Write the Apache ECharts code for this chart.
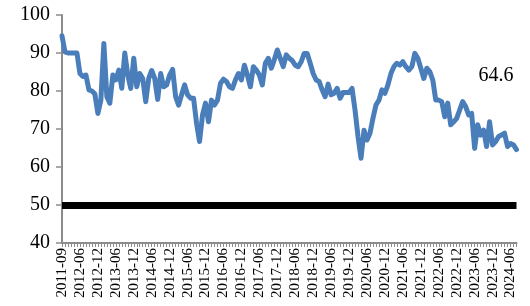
<!DOCTYPE html>
<html>
<head>
<meta charset="utf-8">
<script src="https://cdn.jsdelivr.net/npm/echarts@6/dist/echarts.min.js"></script>
<style>html,body{margin:0;padding:0;background:#fff}#c{width:530px;height:306px}</style>
</head>
<body>
<div id="c"></div>
<script>
// Categories: first point 2011-09, then monthly from 2012-01 to 2024-08
const firstCategory = '2011-09';
const monthlyStart = [2012, 1];
const monthlyEnd = [2024, 8];

const values = [
  94.5, 90.3, 90, 90, 90, 90, 84.6, 83.8, 84.2, 80.3,
  80, 79.2, 74.1, 77.6, 92.5, 78.5, 76.8, 84.2, 82.9, 85.5,
  80.7, 90, 84.2, 80.7, 88.6, 81.1, 84.6, 83.3, 77.2, 83.3,
  85.4, 83.3, 77.8, 84.6, 81.1, 81.6, 84.2, 85.7, 78.5, 76.3,
  79, 81.6, 79, 78.1, 78.1, 71.5, 66.7, 73.7, 76.8, 71.9,
  77.6, 76.3, 77.6, 82, 83.1, 82.5, 81.1, 80.7, 82.9, 84.6,
  82.9, 86.8, 84.2, 81.1, 86.4, 85.5, 84.2, 81.6, 87.3, 88.6,
  86, 88.2, 90.8, 88.6, 86.4, 89.5, 88.6, 88, 86.8, 86.4,
  87.7, 89.9, 89.9, 87.3, 84.6, 82.9, 82.5, 80.3, 78.5, 81.8,
  79, 79.4, 80.7, 78.1, 79.6, 79.6, 79.6, 80.7, 75, 68,
  62.3, 69.7, 67.1, 68.9, 72.8, 76.3, 77.6, 80.3, 79.4, 81.6,
  84.6, 86.4, 87.3, 86.8, 87.7, 86.4, 85.5, 86.4, 89.9, 88.6,
  86, 83.3, 86, 85.1, 82.9, 77.6, 77.6, 77.2, 73.2, 76.8,
  71.1, 71.9, 72.8, 75, 77.2, 75.9, 73.7, 74.1, 64.9, 71.1,
  68.4, 69.7, 65.4, 71.9, 65.8, 66.7, 68, 68.4, 68.9, 65.4,
  66.2, 65.8, 64.6
];

const thresholdValue = 50;
const yTicks = [40, 50, 60, 70, 80, 90, 100];
const endLabelText = '64.6';

const categories = [firstCategory];
for (let y = monthlyStart[0], m = monthlyStart[1]; y < monthlyEnd[0] || (y === monthlyEnd[0] && m <= monthlyEnd[1]); ) {
  categories.push(y + '-' + String(m).padStart(2, '0'));
  m++; if (m > 12) { m = 1; y++; }
}

const serif = '"Liberation Serif", "Times New Roman", serif';
const chart = echarts.init(document.getElementById('c'), null, {renderer: 'canvas'});
chart.setOption({
  animation: false,
  grid: {left: 62, right: 13.5, top: 15, bottom: 63, containLabel: false},
  xAxis: {
    type: 'category',
    data: categories,
    boundaryGap: false,
    axisLine: {lineStyle: {color: '#8c8c8c', width: 2}},
    axisTick: {show: true, interval: 0, length: 4, lineStyle: {color: '#8c8c8c', width: 1}},
    axisLabel: {
      interval: function (i) { return i % 6 === 0; },
      rotate: 90,
      margin: 5,
      fontFamily: serif,
      fontSize: 15,
      color: '#000'
    },
    splitLine: {show: false}
  },
  yAxis: {
    type: 'value',
    min: yTicks[0],
    max: yTicks[yTicks.length - 1],
    interval: 10,
    axisLine: {show: true, lineStyle: {color: '#8c8c8c', width: 2}},
    axisTick: {show: true, length: 6, lineStyle: {color: '#8c8c8c', width: 1.5}},
    axisLabel: {margin: 12, fontFamily: serif, fontSize: 20, color: '#000'},
    splitLine: {show: false}
  },
  series: [{
    type: 'line',
    data: values,
    showSymbol: false,
    symbol: 'none',
    lineStyle: {color: '#4a7ebb', width: 5, join: 'round', cap: 'round'},
    itemStyle: {color: '#4a7ebb'},
    endLabel: {
      show: true,
      formatter: function () { return endLabelText; },
      fontFamily: serif,
      fontSize: 20,
      color: '#000',
      offset: [-46, -74]
    },
    markLine: {
      silent: true,
      symbol: 'none',
      label: {show: false},
      lineStyle: {color: '#000', width: 7, type: 'solid'},
      data: [{yAxis: thresholdValue}]
    }
  }]
});
</script>
</body>
</html>
